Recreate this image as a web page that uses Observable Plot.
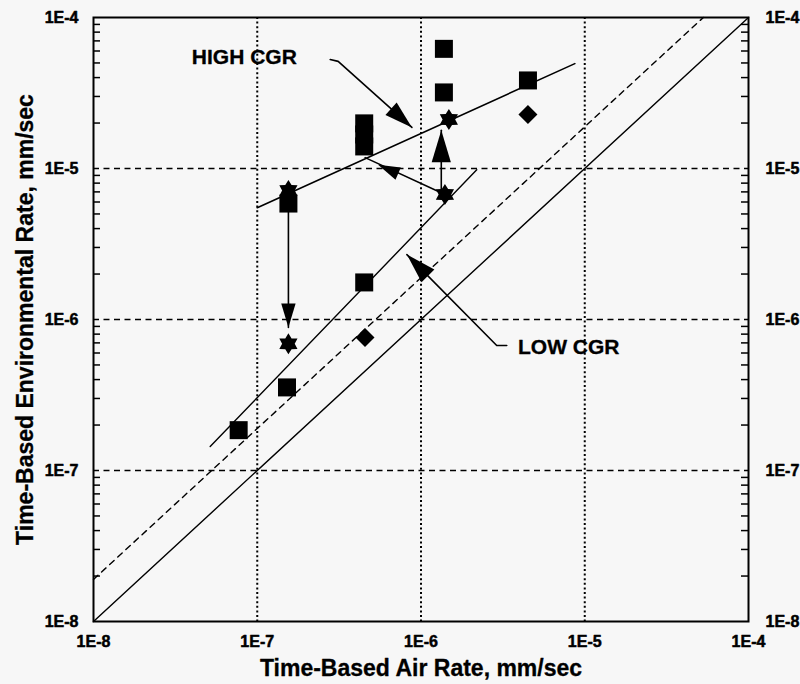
<!DOCTYPE html>
<html><head><meta charset="utf-8">
<script src="https://cdn.jsdelivr.net/npm/d3@7"></script>
<script src="https://cdn.jsdelivr.net/npm/@observablehq/plot@0.6"></script>
<style>
html,body{margin:0;padding:0;background:#f7f7f7;}
#chart svg{display:block;}
</style></head><body><div id="chart"></div>
<script>
// ---- data (mm/sec) ----
const decadeTicks = [1e-8, 1e-7, 1e-6, 1e-5, 1e-4];
const gridTicks = [1e-7, 1e-6, 1e-5];
const minorTicks = [];
for (let e = -8; e < -4; e++) for (let m = 2; m <= 9; m++) minorTicks.push(m * Math.pow(10, e));

const squareX = [7.7e-8, 1.52e-7, 1.55e-7, 4.5e-7, 4.5e-7, 4.5e-7, 4.5e-7, 1.38e-6, 1.38e-6, 4.5e-6];
const squareY = [1.85e-7, 3.55e-7, 5.86e-6, 1.76e-6, 1.40e-5, 1.68e-5, 1.99e-5, 6.2e-5, 3.19e-5, 3.83e-5];
const diamondX = [4.55e-7, 4.5e-6];
const diamondY = [7.6e-7, 2.28e-5];
const starX = [1.55e-7, 1.55e-7, 1.48e-6, 1.40e-6];
const starY = [7.15e-6, 6.9e-7, 2.11e-5, 6.73e-6];

const unityX = [1e-8, 1e-4], unityY = [1e-8, 1e-4];
const dashX = [1e-8, 5.3e-5], dashY = [1.9e-8, 1e-4];
const lowFitX = [5.16e-8, 2.19e-6], lowFitY = [1.44e-7, 9.8e-6];
const highFitX = [1e-7, 8.7e-6], highFitY = [5.5e-6, 4.95e-5];

// arrow shafts (polylines)
const arrowId = [1, 1, 1, 2, 2, 3, 3, 4, 4, 5, 5, 5];
const arrowX = [2.79e-7, 3.12e-7, 8.8e-7, 1.55e-7, 1.55e-7, 1.33e-6, 1.33e-6, 1.40e-6, 4.56e-7, 3.34e-6, 2.9e-6, 8.2e-7];
const arrowY = [5.27e-5, 5.12e-5, 1.87e-5, 5.5e-6, 8.85e-7, 6.9e-6, 1.79e-5, 6.73e-6, 1.18e-5, 6.73e-7, 6.73e-7, 2.69e-6];
// arrow heads: tip and the point they come from
const headTipX = [8.8e-7, 1.55e-7, 1.33e-6, 5.47e-7, 8.2e-7];
const headTipY = [1.87e-5, 8.85e-7, 1.79e-5, 1.06e-5, 2.69e-6];
const headFromX = [3.12e-7, 1.55e-7, 1.33e-6, 1.40e-6, 2.9e-6];
const headFromY = [5.12e-5, 5.5e-6, 6.9e-6, 6.73e-6, 6.73e-7];
const headSize = [14, 12, 16, 11, 15];

const labelText = ["HIGH CGR", "LOW CGR"];
const labelX = [8.34e-8, 7.98e-6];
const labelY = [5.43e-5, 6.53e-7];

// ---- layout ----
const W = 800, H = 684, mL = 93, mR = 52, mT = 17, mB = 63;
const xs = Plot.scale({x: {type: "log", domain: [1e-8, 1e-4], range: [mL, W - mR]}});
const ys = Plot.scale({y: {type: "log", domain: [1e-8, 1e-4], range: [H - mB, mT]}});

const pts = (xa, ya) => xa.map((x, i) => ({x, y: ya[i]}));
const arrows = arrowX.map((x, i) => ({x, y: arrowY[i], id: arrowId[i]}));
const heads = headTipX.map((x, i) => {
  const dx = xs.apply(x) - xs.apply(headFromX[i]);
  const dy = ys.apply(headTipY[i]) - ys.apply(headFromY[i]);
  return {x, y: headTipY[i], angle: Math.atan2(dx, -dy) * 180 / Math.PI, s: headSize[i]};
});

const rOf = size => Math.sqrt(size / Math.PI);
const squareSym = {draw(c, size) { const s = rOf(size); c.rect(-s, -s, 2 * s, 2 * s); }};
const diamondSym = {draw(c, size) { const d = rOf(size); c.moveTo(0, -d); c.lineTo(d, 0); c.lineTo(0, d); c.lineTo(-d, 0); c.closePath(); }};
const starSym = {draw(c, size) {
  const R = rOf(size), r = R * 0.6;
  for (let i = 0; i < 12; i++) {
    const a = i * Math.PI / 6, rr = i % 2 ? r : R;
    const px = rr * Math.sin(a), py = -rr * Math.cos(a);
    i ? c.lineTo(px, py) : c.moveTo(px, py);
  }
  c.closePath();
}};
const headSym = {draw(c, size) { const L = 2 * rOf(size), w = L * 0.3; c.moveTo(0, 0); c.lineTo(w, L); c.lineTo(-w, L); c.closePath(); }};

const fmt = d => "1E" + Math.round(Math.log10(d));
const font = {fontFamily: "'Liberation Sans', Arial, sans-serif", fontWeight: "bold", fill: "black", stroke: "black"};
const frameW = W - mL - mR;

const chart = Plot.plot({
  width: W, height: H,
  marginLeft: mL, marginRight: mR, marginTop: mT, marginBottom: mB,
  style: {background: "#f7f7f7", color: "black", fontFamily: "'Liberation Sans', Arial, sans-serif"},
  x: {type: "log", domain: [1e-8, 1e-4], axis: null},
  y: {type: "log", domain: [1e-8, 1e-4], axis: null},
  marks: [
    Plot.ruleY(gridTicks, {stroke: "black", strokeWidth: 1.6, strokeDasharray: "6,4.5"}),
    Plot.ruleX(gridTicks, {stroke: "black", strokeWidth: 2, strokeDasharray: "2,2.6"}),
    Plot.tickY(minorTicks, {y: d => d, insetRight: frameW - 7, stroke: "black", strokeWidth: 1.5}),
    Plot.tickY(minorTicks, {y: d => d, insetLeft: frameW - 7, stroke: "black", strokeWidth: 1.5}),
    Plot.line(pts(unityX, unityY), {x: "x", y: "y", stroke: "black", strokeWidth: 1.4}),
    Plot.line(pts(dashX, dashY), {x: "x", y: "y", stroke: "black", strokeWidth: 1.4, strokeDasharray: "6,5"}),
    Plot.line(pts(lowFitX, lowFitY), {x: "x", y: "y", stroke: "black", strokeWidth: 1.4}),
    Plot.line(pts(highFitX, highFitY), {x: "x", y: "y", stroke: "black", strokeWidth: 1.6}),
    Plot.line(arrows, {x: "x", y: "y", z: "id", stroke: "black", strokeWidth: 1.6}),
    Plot.dot(pts(squareX, squareY), {x: "x", y: "y", symbol: squareSym, r: 9, fill: "black", stroke: "none"}),
    Plot.dot(pts(diamondX, diamondY), {x: "x", y: "y", symbol: diamondSym, r: 9.5, fill: "black", stroke: "none"}),
    Plot.dot(pts(starX, starY), {x: "x", y: "y", symbol: starSym, r: 10.5, fill: "black", stroke: "none"}),
    ...[11, 12, 14, 15, 16].map(s => Plot.dot(heads.filter(h => h.s === s), {x: "x", y: "y", rotate: "angle", symbol: headSym, r: s, fill: "black", stroke: "none"})),
    Plot.frame({stroke: "black", strokeWidth: 2}),
    Plot.text(decadeTicks, {x: 1e-8, y: d => d, text: fmt, dx: -15, textAnchor: "end", fontSize: 16, ...font, strokeWidth: 0.5}),
    Plot.text(decadeTicks, {x: 1e-4, y: d => d, text: fmt, dx: 17, textAnchor: "start", fontSize: 16, ...font, strokeWidth: 0.5}),
    Plot.text(decadeTicks, {x: d => d, y: 1e-8, text: fmt, dy: 20, textAnchor: "middle", fontSize: 16, ...font, strokeWidth: 0.5}),
    Plot.text(["Time-Based Air Rate, mm/sec"], {text: d => d, frameAnchor: "bottom", dy: 47, textAnchor: "middle", lineAnchor: "middle", fontSize: 23, ...font, strokeWidth: 0.3}),
    Plot.text(["Time-Based Environmental Rate, mm/sec"], {text: d => d, frameAnchor: "left", dx: -68, rotate: -90, textAnchor: "middle", lineAnchor: "middle", fontSize: 23, ...font, strokeWidth: 0.3}),
    Plot.text(labelText.map((t, i) => ({t, x: labelX[i], y: labelY[i]})), {x: "x", y: "y", text: "t", fontSize: 21, ...font, strokeWidth: 0.3})
  ]
});
document.getElementById("chart").appendChild(chart);
</script>
</body></html>
